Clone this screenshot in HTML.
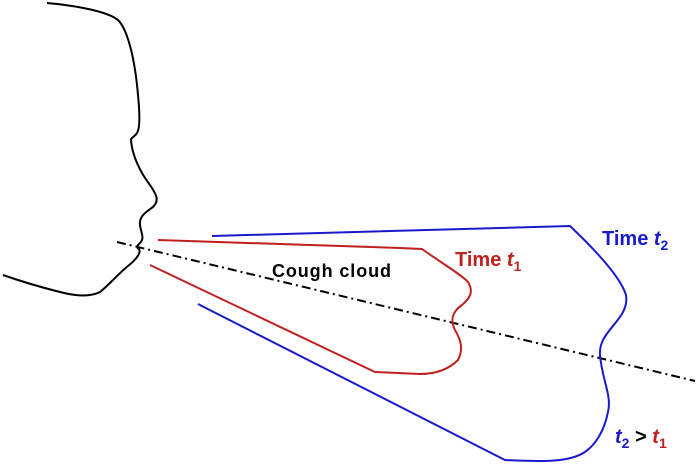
<!DOCTYPE html>
<html><head><style>body{margin:0;background:#fff}svg{display:block}text{font-family:"Liberation Sans",sans-serif;font-weight:bold}</style></head><body>
<svg width="700" height="466" viewBox="0 0 700 466">
<path d="M47,3 C80,6 108,12 118,20 C128,30 135,60 138,95 C140,115 140,128 137,133 C135,137 131,137 131,140 C132,155 140,172 150,185 C156,194 160,200 153,207 C146,212 139,216 140,225 C141,233 145,238 140,243 C137,246 136,247 139,249 C141,252 138,258 128,266 C118,274 110,284 100,292 C90,297 75,296 60,292 C40,287 20,281 3,275" fill="none" stroke="#000" stroke-width="2"/>
<line x1="117" y1="242" x2="695" y2="381" stroke="#000" stroke-width="2" stroke-dasharray="9,4,2,4"/>
<path d="M158,240 L400,248 L422,249 C440,262 462,275 468,282 C474,292 470,298 462,305 C452,312 450,320 455,330 C462,342 463,350 458,360 C448,370 435,374 420,374 L375,372 L150,265" fill="none" stroke="#c02020" stroke-width="2"/>
<path d="M212,236 L570,226 C590,245 620,275 626,295 C630,320 598,330 600,355 C602,380 612,395 608,412 C604,432 595,445 585,452 C570,462 545,462 505,460 L198,304" fill="none" stroke="#1a1acc" stroke-width="2"/>
<text x="272" y="277" font-size="18" fill="#000" textLength="119">Cough cloud</text>
<text x="455" y="266" font-size="20" fill="#c02020">Time <tspan font-style="italic">t</tspan><tspan font-size="14" dy="5">1</tspan></text>
<text x="602" y="245" font-size="20" fill="#1a1acc">Time <tspan font-style="italic">t</tspan><tspan font-size="14" dy="5">2</tspan></text>
<text x="615" y="443" font-size="20"><tspan fill="#1a1acc" font-style="italic">t</tspan><tspan fill="#1a1acc" font-size="14" dy="5">2</tspan><tspan dy="-5" fill="#000"> &gt; </tspan><tspan fill="#c02020" font-style="italic">t</tspan><tspan fill="#c02020" font-size="14" dy="5">1</tspan></text>
</svg>
</body></html>
